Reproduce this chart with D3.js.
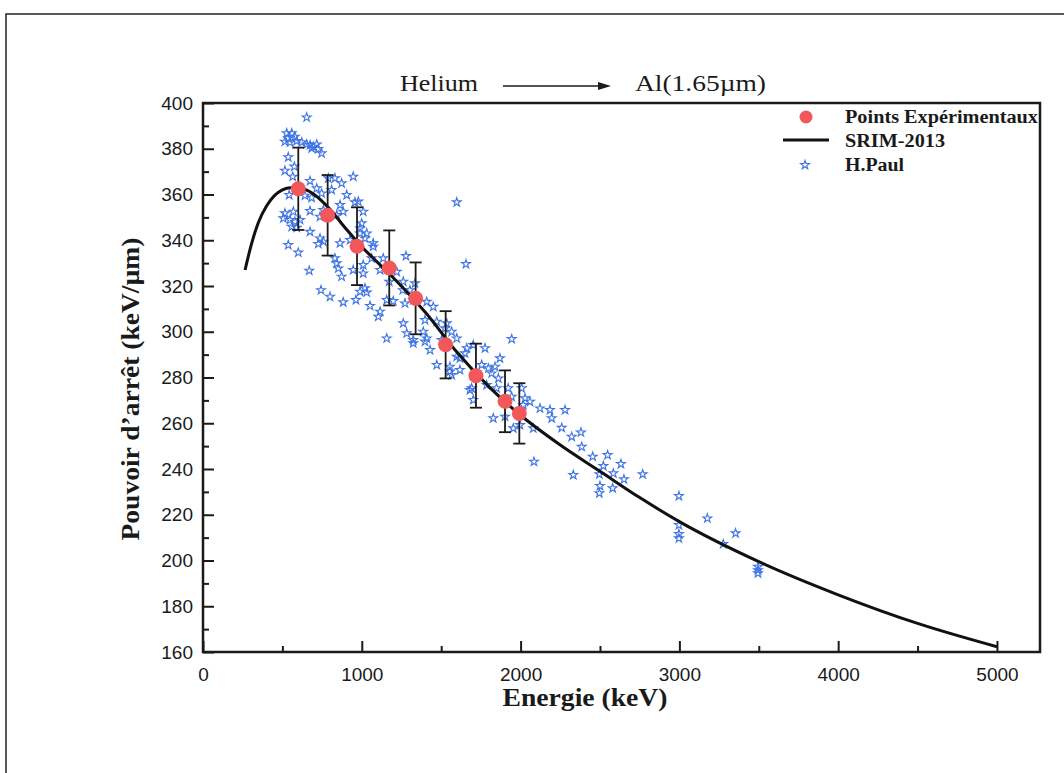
<!DOCTYPE html>
<html>
<head>
<meta charset="utf-8">
<script src="https://cdn.jsdelivr.net/npm/d3@7"></script>
<style>
  body { margin: 0; background: #fff; }
  .tick text { font-family: "Liberation Sans", Arial, sans-serif; font-size: 19px; fill: #1a1a1a; }
  .serif { font-family: "Liberation Serif", "Times New Roman", serif; fill: #1a1a1a; }
</style>
</head>
<body>
<div class="chart"></div>
<script>
  // experimental points (Energie keV, Pouvoir d'arret keV/um, error)
  var expEnergy = [600, 785, 970, 1173, 1339, 1528, 1719, 1902, 1992];
  var expStop = [362.5, 350.9, 337.4, 327.9, 314.6, 294.3, 280.8, 269.6, 264.3];
  var expErr = [18, 17.6, 17, 16.4, 15.7, 14.7, 14, 13.5, 13.2];

  // SRIM-2013 curve
  var srimEnergy = [265, 300, 350, 400, 450, 500, 550, 600, 650, 700, 800, 900, 1000, 1200, 1400, 1600, 1800, 2000, 2250, 2500, 2750, 3000, 3500, 4000, 4500, 5000];
  var srimStop = [327, 337, 348, 355, 359.5, 362, 363, 363, 362, 360, 353.5, 345, 337.2, 323.5, 308.5, 291, 276, 263.5, 250.5, 239, 227.5, 217, 199.5, 185, 172.5, 162.3];

  // H.Paul data base
  var paulEnergy = [653,527,559,579,537,516,548,590,622,653,
    674,695,716,726,747,684,537,575,516,565,
    674,543,716,642,684,747,789,831,873,946,
    810,905,957,978,863,883,1009,516,569,506,
    548,579,611,674,737,758,842,999,989,1031,
    674,590,559,737,758,863,926,1020,1072,537,
    600,726,831,842,852,873,669,946,1009,1009,
    1072,1062,1115,1135,743,800,883,963,989,1020,
    1031,1052,1115,1104,1157,1157,989,1173,1220,1278,
    1198,1258,1303,1324,1409,1450,1472,1398,1524,1535,
    1598,1261,1283,1598,1656,1261,1272,1387,1409,1566,
    1503,1324,1335,1944,1661,1702,1776,1650,1598,1618,
    1472,1555,1618,1566,1755,1797,1839,1870,1818,1860,
    1786,1849,1922,1944,2007,2028,2059,1692,1702,1828,
    1902,1954,1996,2084,2017,2122,2185,2196,2280,2080,
    2259,2322,2380,2385,2454,2548,2521,2632,2584,2651,
    2769,2496,2500,2496,2580,2332,2997,2997,2997,2997,
    3176,3276,3354,3495,3495,3495,1324,1398,1430,1555,
    1681];
  var paulStop = [393.7,386.8,386.8,385.3,384.6,383.1,382.8,383.4,382.8,381.9,
    381.6,380.9,381.9,379.9,378.0,380.2,376.3,372.2,370.4,367.8,
    365.9,359.8,362.7,359.5,358.6,360.5,367.1,367.1,364.9,367.8,
    362.0,359.8,356.6,356.9,355.4,352.5,352.5,351.8,352.5,349.6,
    348.9,348.1,348.9,352.8,350.3,353.2,351.0,347.4,345.2,343.0,
    343.7,345.5,345.9,340.8,339.4,338.7,340.1,340.8,338.7,337.9,
    334.6,338.4,332.1,329.9,327.7,324.1,326.7,327.0,329.2,325.5,
    337.2,332.1,327.0,332.1,318.2,315.3,312.9,313.9,317.5,319.0,
    317.2,311.3,308.8,306.6,297.1,313.9,343.0,321.9,326.2,333.1,
    313.4,318.2,318.2,313.9,313.1,310.9,304.4,305.1,301.5,303.7,
    297.1,303.7,299.3,356.6,329.6,321.9,312.4,300.0,297.1,300.0,
    296.4,296.4,321.2,296.8,292.8,294.2,292.8,290.6,289.1,288.4,
    285.5,284.7,283.3,281.1,285.5,284.0,284.7,288.4,281.8,279.6,
    276.7,275.3,275.3,271.6,275.3,270.9,269.4,275.3,270.2,262.2,
    262.9,257.8,259.2,243.2,268.0,266.5,265.8,262.2,265.8,257.8,
    258.0,254.1,256.0,249.7,245.4,246.1,241.3,242.2,238.1,235.5,
    237.7,237.7,232.6,229.4,231.6,237.4,228.2,215.5,211.6,209.7,
    218.4,207.2,211.9,197.3,195.8,194.4,295.0,295.7,292.0,282.6,
    274.5];

  var xMajor = [0, 1000, 2000, 3000, 4000, 5000];
  var xMinor = [500, 1500, 2500, 3500, 4500];
  var yMajor = [160, 180, 200, 220, 240, 260, 280, 300, 320, 340, 360, 380, 400];
  var yMinor = [170, 190, 210, 230, 250, 270, 290, 310, 330, 350, 370, 390];

  var width = 1064, height = 773;
  var plotLeft = 203, plotRight = 1040, plotTop = 103, plotBottom = 652;

  var svg = d3.select(".chart").append("svg")
    .attr("width", width)
    .attr("height", height);

  // scanned page frame
  svg.append("rect")
    .attr("x", 6).attr("y", 14)
    .attr("width", 1100).attr("height", 800)
    .attr("fill", "none").attr("stroke", "#222").attr("stroke-width", 1.5);

  var xS = d3.scaleLinear().domain([0, 5271]).range([plotLeft, plotRight]);
  var yS = d3.scaleLinear().domain([160, 400]).range([plotBottom, plotTop]);

  // axes, ticks pointing inside
  svg.append("g").attr("transform", "translate(0," + plotBottom + ")")
    .call(d3.axisBottom(xS).tickValues(xMajor).tickSize(-11).tickSizeOuter(0).tickPadding(16).tickFormat(d3.format("d")));
  svg.append("g").attr("transform", "translate(0," + plotBottom + ")")
    .call(d3.axisBottom(xS).tickValues(xMinor).tickSize(-6).tickSizeOuter(0).tickFormat(""));
  svg.append("g").attr("transform", "translate(" + plotLeft + ",0)")
    .call(d3.axisLeft(yS).tickValues(yMajor).tickSize(-11).tickSizeOuter(0).tickPadding(10));
  svg.append("g").attr("transform", "translate(" + plotLeft + ",0)")
    .call(d3.axisLeft(yS).tickValues(yMinor).tickSize(-6).tickSizeOuter(0).tickFormat(""));

  svg.selectAll(".tick line").attr("stroke", "#1a1a1a").attr("stroke-width", 2);
  svg.selectAll(".domain").attr("stroke", "none");

  // plot box
  svg.append("rect")
    .attr("x", plotLeft).attr("y", plotTop)
    .attr("width", plotRight - plotLeft).attr("height", plotBottom - plotTop)
    .attr("fill", "none").attr("stroke", "#1a1a1a").attr("stroke-width", 2.5);

  // H.Paul stars
  var star = d3.symbol().type(d3.symbolStar).size(24);
  svg.append("g").selectAll("path")
    .data(paulEnergy.map(function(e, i){ return [e, paulStop[i]]; }))
    .enter()
    .append("path")
    .attr("d", star)
    .attr("transform", function(d){ return "translate(" + xS(d[0]) + "," + yS(d[1]) + ")"; })
    .attr("fill", "none")
    .attr("stroke", "#3f74e2")
    .attr("stroke-width", 1.1);

  // SRIM curve
  var line = d3.line()
    .x(function(d){ return xS(d[0]); })
    .y(function(d){ return yS(d[1]); })
    .curve(d3.curveMonotoneX);
  svg.append("path")
    .datum(srimEnergy.map(function(e, i){ return [e, srimStop[i]]; }))
    .attr("d", line)
    .attr("fill", "none")
    .attr("stroke", "#111")
    .attr("stroke-width", 3);

  // error bars + points
  var expData = expEnergy.map(function(e, i){ return {e: e, s: expStop[i], err: expErr[i]}; });
  var bars = svg.append("g").selectAll("g")
    .data(expData)
    .enter()
    .append("g")
    .attr("stroke", "#1a1a1a")
    .attr("stroke-width", 1.8);
  bars.append("line")
    .attr("x1", function(d){ return xS(d.e); })
    .attr("x2", function(d){ return xS(d.e); })
    .attr("y1", function(d){ return yS(d.s + d.err); })
    .attr("y2", function(d){ return yS(d.s - d.err); });
  bars.append("line")
    .attr("x1", function(d){ return xS(d.e) - 6; })
    .attr("x2", function(d){ return xS(d.e) + 6; })
    .attr("y1", function(d){ return yS(d.s + d.err); })
    .attr("y2", function(d){ return yS(d.s + d.err); });
  bars.append("line")
    .attr("x1", function(d){ return xS(d.e) - 6; })
    .attr("x2", function(d){ return xS(d.e) + 6; })
    .attr("y1", function(d){ return yS(d.s - d.err); })
    .attr("y2", function(d){ return yS(d.s - d.err); });
  svg.append("g").selectAll("circle")
    .data(expData)
    .enter()
    .append("circle")
    .attr("cx", function(d){ return xS(d.e); })
    .attr("cy", function(d){ return yS(d.s); })
    .attr("r", 7.5)
    .attr("fill", "#f2575a");

  // title
  svg.append("text").attr("class", "serif")
    .attr("x", 400).attr("y", 91)
    .attr("font-size", 24)
    .attr("textLength", 78).attr("lengthAdjust", "spacingAndGlyphs")
    .text("Helium");
  svg.append("line")
    .attr("x1", 503).attr("x2", 600).attr("y1", 86).attr("y2", 86)
    .attr("stroke", "#1a1a1a").attr("stroke-width", 1.5);
  svg.append("path")
    .attr("d", "M598,82 L611,86 L598,90 Z")
    .attr("fill", "#1a1a1a");
  svg.append("text").attr("class", "serif")
    .attr("x", 635).attr("y", 91)
    .attr("font-size", 24)
    .attr("textLength", 131).attr("lengthAdjust", "spacingAndGlyphs")
    .text("Al(1.65µm)");

  // axis titles
  svg.append("text").attr("class", "serif")
    .attr("x", 585).attr("y", 706)
    .attr("text-anchor", "middle")
    .attr("font-size", 25).attr("font-weight", "bold")
    .attr("textLength", 165).attr("lengthAdjust", "spacingAndGlyphs")
    .text("Energie (keV)");
  svg.append("text").attr("class", "serif")
    .attr("transform", "translate(139,389) rotate(-90)")
    .attr("text-anchor", "middle")
    .attr("font-size", 25).attr("font-weight", "bold")
    .attr("textLength", 303).attr("lengthAdjust", "spacingAndGlyphs")
    .text("Pouvoir d\u2019arr\u00eat (keV/\u00b5m)");

  // legend
  var legend = svg.append("g");
  legend.append("circle").attr("cx", 806).attr("cy", 117).attr("r", 6.5).attr("fill", "#f2575a");
  legend.append("line").attr("x1", 783).attr("x2", 829).attr("y1", 140).attr("y2", 140)
    .attr("stroke", "#111").attr("stroke-width", 3);
  legend.append("path").attr("d", star).attr("transform", "translate(805,165)")
    .attr("fill", "none").attr("stroke", "#3f74e2").attr("stroke-width", 1.1);
  var legendText = [["Points Exp\u00e9rimentaux", 123, 193], ["SRIM-2013", 147, 100], ["H.Paul", 171, 59]];
  legend.selectAll("text")
    .data(legendText)
    .enter()
    .append("text")
    .attr("class", "serif")
    .attr("x", 845)
    .attr("y", function(d){ return d[1]; })
    .attr("font-size", 18).attr("font-weight", "bold")
    .attr("textLength", function(d){ return d[2]; })
    .attr("lengthAdjust", "spacingAndGlyphs")
    .text(function(d){ return d[0]; });
</script>
</body>
</html>
